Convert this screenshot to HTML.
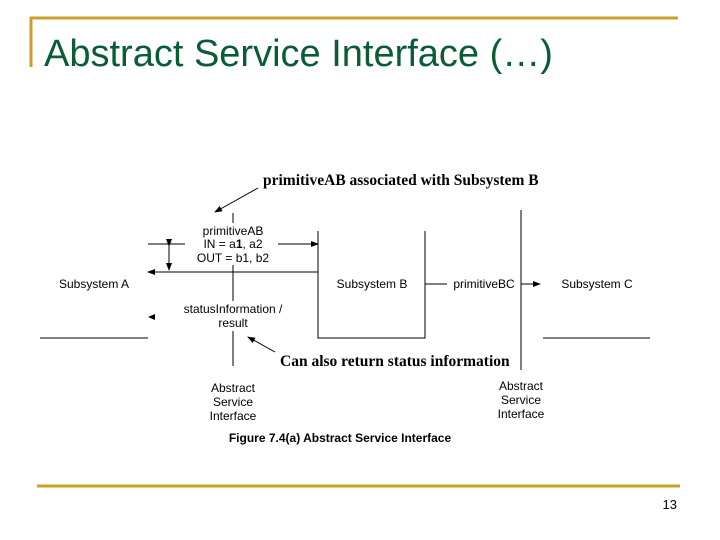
<!DOCTYPE html>
<html><head><style>
body{margin:0;width:720px;height:540px;background:#fff;overflow:hidden}
svg{display:block}
</style></head><body>
<svg width="720" height="540" xmlns="http://www.w3.org/2000/svg">
<defs><marker id="a" markerWidth="8" markerHeight="6" refX="7" refY="3" orient="auto" markerUnits="userSpaceOnUse"><path d="M0,0L8,3L0,6z" fill="#000"/></marker></defs>
<line x1="30" y1="18" x2="678" y2="18" stroke="#c9a227" stroke-width="3"/>
<line x1="31" y1="17" x2="31" y2="67" stroke="#c9a227" stroke-width="3"/>
<line x1="37" y1="486" x2="680" y2="486" stroke="#c9a227" stroke-width="3"/>
<text x="44" y="66" font-family="Liberation Sans" font-size="38" fill="#0a5c36">Abstract Service Interface (…)</text>
<text x="677" y="509" font-family="Liberation Sans" font-size="13" text-anchor="end">13</text>
<g font-family="Liberation Serif" font-weight="bold" font-size="15.5">
<text x="263" y="185">primitiveAB associated with Subsystem B</text>
<text x="280" y="366">Can also return status information</text>
</g>
<g stroke="#000" stroke-width="1" fill="none">
<line x1="258" y1="188" x2="215" y2="212" marker-end="url(#a)"/>
<line x1="275" y1="352" x2="248" y2="337" marker-end="url(#a)"/>
<line x1="233" y1="213" x2="233" y2="223"/>
<line x1="148" y1="244" x2="185" y2="244"/>
<line x1="278" y1="244" x2="318" y2="244" marker-end="url(#a)"/>
<line x1="169" y1="246" x2="169" y2="270" marker-end="url(#a)" marker-start="url(#a)"/>
<line x1="318" y1="272" x2="148" y2="272" marker-end="url(#a)"/>
<line x1="233" y1="265" x2="233" y2="301"/>
<line x1="233" y1="331" x2="233" y2="366"/>
<polyline points="318,231 318,338 425,338 425,231"/>
<line x1="425" y1="284" x2="447" y2="284"/>
<line x1="521" y1="284" x2="540" y2="284" marker-end="url(#a)"/>
<line x1="521" y1="210" x2="521" y2="370"/>
<line x1="40" y1="338" x2="148" y2="338"/>
<line x1="543" y1="338" x2="650" y2="338"/>
</g>
<path d="M148,317l7,-3v6z" fill="#000"/>
<g font-family="Liberation Sans" font-size="12" text-anchor="middle">
<text x="233" y="235">primitiveAB</text>
<text x="233" y="248">IN = a<tspan font-weight="bold">1</tspan>, a2</text>
<text x="233" y="262">OUT = b1, b2</text>
<text x="94" y="288">Subsystem A</text>
<text x="372" y="288">Subsystem B</text>
<text x="484" y="288">primitiveBC</text>
<text x="597" y="288">Subsystem C</text>
<text x="233" y="313">statusInformation /</text>
<text x="233" y="327">result</text>
<text x="233" y="392">Abstract</text>
<text x="233" y="406">Service</text>
<text x="233" y="420">Interface</text>
<text x="521" y="390">Abstract</text>
<text x="521" y="404">Service</text>
<text x="521" y="418">Interface</text>
<text x="340" y="442" font-weight="bold">Figure 7.4(a) Abstract Service Interface</text>
</g>
</svg>
</body></html>
